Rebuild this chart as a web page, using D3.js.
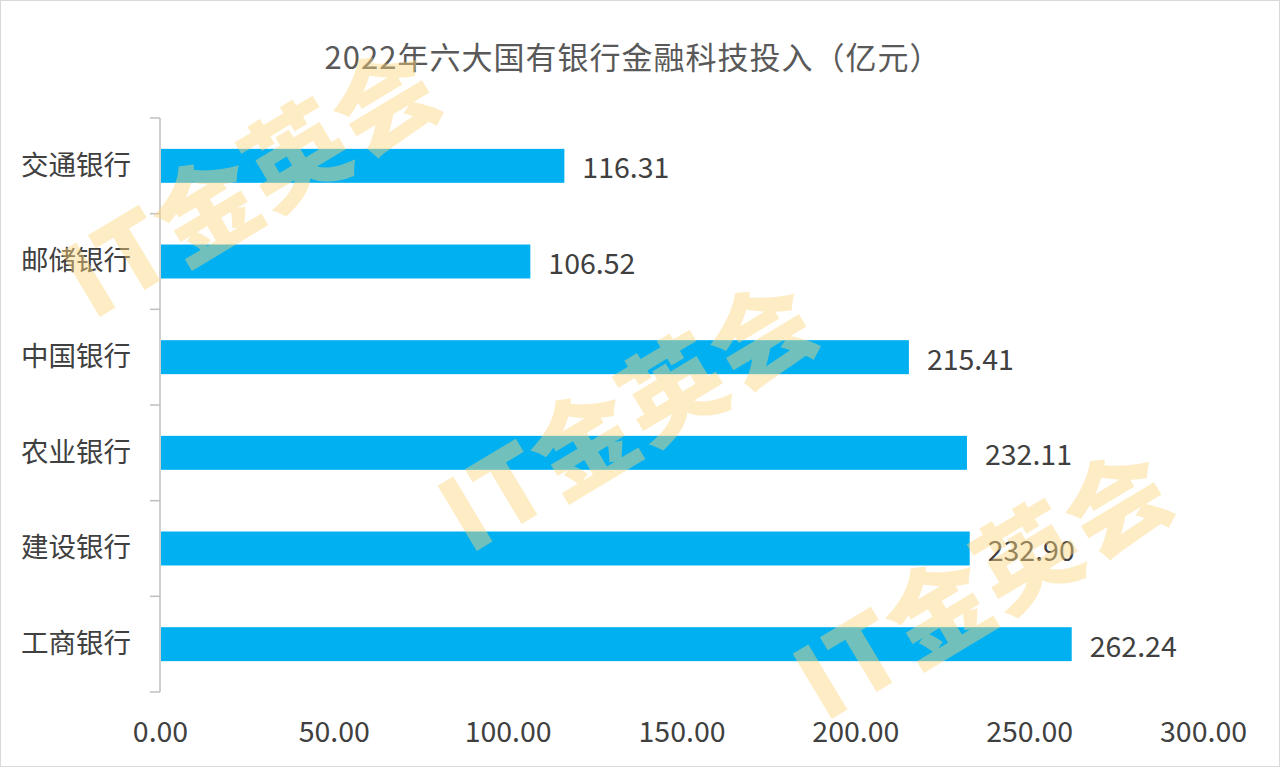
<!DOCTYPE html>
<html>
<head>
<meta charset="utf-8">
<script src="https://cdn.jsdelivr.net/npm/d3@7"></script>
<style>
  html, body { margin: 0; padding: 0; background: #fff; }
  svg { display: block; }
  text { font-family: "Noto Sans CJK SC", "Noto Sans", sans-serif; }
</style>
</head>
<body>
<svg id="chart" width="1280" height="769"></svg>
<script>
// ---- data ----
const title = "2022年六大国有银行金融科技投入（亿元）";
const categories = ["交通银行", "邮储银行", "中国银行", "农业银行", "建设银行", "工商银行"];
const values = [116.31, 106.52, 215.41, 232.11, 232.90, 262.24];
const xTicks = [0, 50, 100, 150, 200, 250, 300];
const watermarkText = "IT金英会";

const W = 1280, H = 769;
const svg = d3.select("#chart");

svg.append("rect")
  .attr("x", 0.5).attr("y", 0.5).attr("width", W - 1).attr("height", H - 3)
  .attr("fill", "#fff").attr("stroke", "#d9d9d9");

const x = d3.scaleLinear().domain([0, 300]).range([160, 1203]);
const y = d3.scaleBand().domain(categories).range([118, 692])
  .paddingInner(0.645).paddingOuter(0.3225);

// title
svg.append("text")
  .attr("x", 633).attr("y", 55)
  .attr("text-anchor", "middle").attr("dominant-baseline", "central")
  .attr("fill", "#595959").attr("font-size", 31).attr("letter-spacing", 1)
  .text(title);

// y axis line and boundary ticks
const yAxisG = svg.append("g");
yAxisG.append("line")
  .attr("x1", x(0)).attr("x2", x(0))
  .attr("y1", y.range()[0]).attr("y2", y.range()[1])
  .attr("stroke", "#bfbfbf").attr("stroke-width", 1.5);
const bounds = d3.range(categories.length + 1).map(i => y.range()[0] + i * y.step());
yAxisG.selectAll("line.tick").data(bounds).join("line")
  .attr("class", "tick")
  .attr("x1", x(0) - 10).attr("x2", x(0))
  .attr("y1", d => d).attr("y2", d => d)
  .attr("stroke", "#bfbfbf").attr("stroke-width", 1.5);

// category labels
const yAxis = svg.append("g")
  .attr("transform", `translate(${x(0)},0)`)
  .call(d3.axisLeft(y).tickSize(0).tickPadding(29));
yAxis.select(".domain").remove();
yAxis.selectAll("text")
  .attr("font-size", 27.5).attr("fill", "#404040")
  .attr("font-family", "Noto Sans CJK SC, sans-serif");

// x axis labels
const xAxis = svg.append("g")
  .attr("transform", `translate(0,${y.range()[1]})`)
  .call(d3.axisBottom(x).tickValues(xTicks).tickFormat(d3.format(".2f")).tickSize(0).tickPadding(30));
xAxis.select(".domain").remove();
xAxis.selectAll("text")
  .attr("font-size", 28.5).attr("fill", "#404040")
  .attr("font-family", "Noto Sans CJK SC, sans-serif");

// bars
const data = categories.map((c, i) => ({ c, v: values[i] }));
svg.append("g").selectAll("rect").data(data).join("rect")
  .attr("x", x(0) + 1)
  .attr("y", d => y(d.c))
  .attr("width", d => x(d.v) - x(0) - 1)
  .attr("height", y.bandwidth())
  .attr("fill", "#00b0f0");

// value labels
svg.append("g").selectAll("text").data(data).join("text")
  .attr("x", d => x(d.v) + 18)
  .attr("y", d => y(d.c) + y.bandwidth() / 2)
  .attr("dominant-baseline", "central")
  .attr("font-size", 28.5).attr("fill", "#404040")
  .text(d => d3.format(".2f")(d.v));

// watermarks
const marks = [[248, 176], [625, 410], [980, 578]];
svg.append("g").selectAll("text").data(marks).join("text")
  .attr("transform", d => `translate(${d[0]},${d[1]}) rotate(-31)`)
  .attr("text-anchor", "middle").attr("dominant-baseline", "central")
  .attr("font-size", 102).attr("font-weight", 900).attr("letter-spacing", 2)
  .attr("font-family", "'Noto Serif CJK SC', 'DejaVu Serif', 'Noto Sans CJK SC', serif")
  .attr("fill", "rgb(250,212,125)").attr("fill-opacity", 0.45)
  .text(watermarkText);
</script>
</body>
</html>
